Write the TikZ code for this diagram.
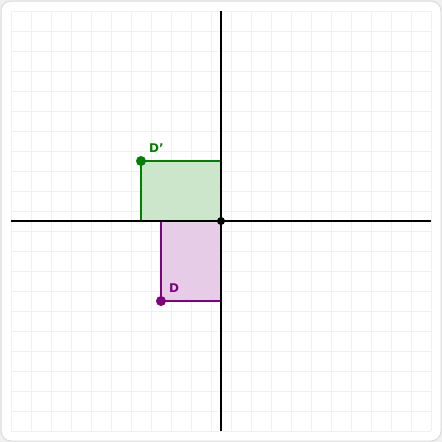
\documentclass[tikz,border=0pt]{standalone}
\usepackage{fontspec}
\setmainfont{DejaVu Sans}
\begin{document}
\begin{tikzpicture}[x=1pt,y=-1pt,
  gridline/.style={draw=black!6,line width=0.8pt},
  axis/.style={draw=black,line width=2pt},
  shapeA/.style={draw=gcol,fill=gcol!20,line width=2pt},
  shapeB/.style={draw=pcol,fill=pcol!20,line width=2pt},
  dotA/.style={circle,fill=gcol,inner sep=0pt,minimum size=10pt},
  dotB/.style={circle,fill=pcol,inner sep=0pt,minimum size=10pt},
  lbl/.style={font=\bfseries\fontsize{12}{14}\selectfont,inner sep=0pt}]
\definecolor{gcol}{HTML}{008000}
\definecolor{pcol}{HTML}{800080}
\useasboundingbox (0,0) rectangle (442,442);
\fill[black!6] (0,0) rectangle (442,442);
\draw[draw=black!14,fill=white,line width=1pt,rounded corners=10pt] (1,1) rectangle (441,441);
\foreach \i in {0,...,21}{
  \draw[gridline] (11+20*\i,11) -- (11+20*\i,431);
  \draw[gridline] (11,11+20*\i) -- (431,11+20*\i);
}
\filldraw[shapeA] (141,161) rectangle (221,221);
\filldraw[shapeB] (161,221) rectangle (221,301);
\coordinate (xl) at (11,221);
\coordinate (xr) at (431,221);
\coordinate (yt) at (221,11);
\coordinate (yb) at (221,431);
\draw[axis] (xl) -- (xr);
\draw[axis] (yt) -- (yb);
\node[circle,fill=black,inner sep=0pt,minimum size=8pt] (o) at (221,221) {};
\node[dotA] (dp) at (141,161) {};
\node[dotB] (d) at (161,301) {};
\node[lbl,text=gcol,anchor=south west] (dpl) at (149,152.5) {D’};
\node[lbl,text=pcol,anchor=south west] (dl) at (169,293) {D};
\end{tikzpicture}
\end{document}
